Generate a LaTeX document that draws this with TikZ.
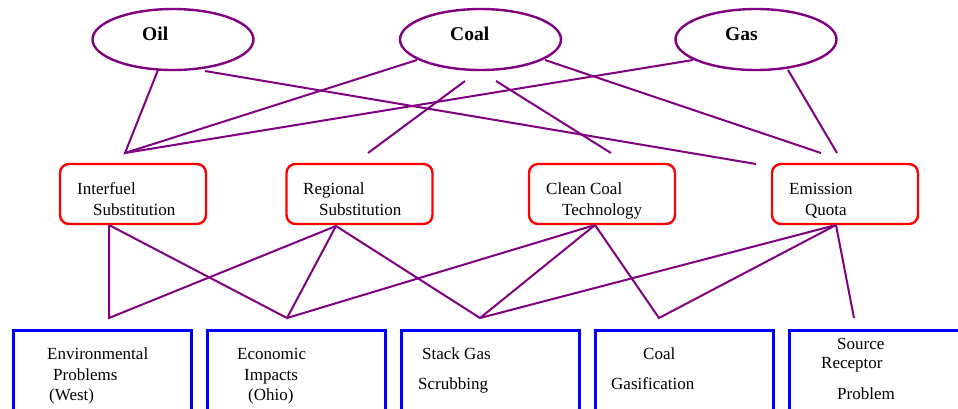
\documentclass[tikz,border=0pt]{standalone}
\usepackage{fontspec}
\setmainfont{Liberation Serif}
\usetikzlibrary{shapes.geometric}
\definecolor{lnpurple}{RGB}{128,0,128}
\begin{document}
\begin{tikzpicture}[x=1pt,y=-1pt,
 fuel/.style={ellipse, draw=lnpurple, line width=2.4pt, minimum width=161pt, minimum height=61pt, inner sep=0pt},
 factor/.style={rectangle, rounded corners=9pt, draw=red, line width=2.4pt, minimum width=146pt, minimum height=60pt, inner sep=0pt},
 issue/.style={rectangle, draw=blue, line width=2.6pt, minimum width=178pt, minimum height=100pt, anchor=north west, inner sep=0pt},
 lbl/.style={anchor=base west, inner sep=0pt, font=\fontsize{17}{20}\selectfont},
 fuellbl/.style={anchor=base west, inner sep=0pt, font=\fontsize{19.5}{22}\selectfont\bfseries},
 link/.style={draw=lnpurple, line width=2pt}]
\useasboundingbox (0,0) rectangle (958,408);
\clip (0,0) rectangle (958,408);
\fill[white] (0,0) rectangle (958,408);
% fuels
\node[fuel] (oil) at (173,39.5) {};
\node[fuel] (coal) at (480.5,39.5) {};
\node[fuel] (gas) at (756,39.5) {};
\node[fuellbl] (oilt) at (142,40) {Oil};
\node[fuellbl] (coalt) at (450,40) {Coal};
\node[fuellbl] (gast) at (725,40) {Gas};
% factors
\node[factor] (inter) at (133,194) {};
\node[factor] (regio) at (359.5,194) {};
\node[factor] (clean) at (602,194) {};
\node[factor] (emis) at (845,194) {};
\node[lbl] (intert1) at (77,194) {Interfuel};
\node[lbl] (intert2) at (93,215) {Substitution};
\node[lbl] (regiot1) at (303,194) {Regional};
\node[lbl] (regiot2) at (319,215) {Substitution};
\node[lbl] (cleant1) at (546,194) {Clean Coal};
\node[lbl] (cleant2) at (562,215) {Technology};
\node[lbl] (emist1) at (789,194) {Emission};
\node[lbl] (emist2) at (805,215) {Quota};
% issues
\node[issue] (env) at (12,329) {};
\node[issue] (eco) at (206,329) {};
\node[issue] (stack) at (400,329) {};
\node[issue] (gasif) at (594,329) {};
\node[issue] (src) at (788,329) {};
\node[lbl] (envt1) at (47,359) {Environmental};
\node[lbl] (envt2) at (53,380) {Problems};
\node[lbl] (envt3) at (49,400) {(West)};
\node[lbl] (ecot1) at (237,359) {Economic};
\node[lbl] (ecot2) at (244,380) {Impacts};
\node[lbl] (ecot3) at (248,400) {(Ohio)};
\node[lbl] (stackt1) at (422,359) {Stack Gas};
\node[lbl] (stackt2) at (418,389) {Scrubbing};
\node[lbl] (gasift1) at (643,359) {Coal};
\node[lbl] (gasift2) at (611,389) {Gasification};
\node[lbl] (srct1) at (837,349) {Source};
\node[lbl] (srct2) at (821,368) {Receptor};
\node[lbl] (srct3) at (837,399) {Problem};
% connector end points
\coordinate (oilA) at (158,70);
\coordinate (oilB) at (205,71);
\coordinate (coalA) at (417,60);
\coordinate (coalB) at (465,81);
\coordinate (coalC) at (496,81);
\coordinate (coalD) at (545,60);
\coordinate (gasA) at (693,60);
\coordinate (gasB) at (788,70);
\coordinate (intT) at (125,153);
\coordinate (regT) at (368,153);
\coordinate (cleT) at (611,153);
\coordinate (emiT1) at (756,164);
\coordinate (emiT2) at (821,153);
\coordinate (emiT3) at (837,153);
\coordinate (intB) at (109,225);
\coordinate (regB) at (336,226);
\coordinate (cleB) at (595,225);
\coordinate (emiB) at (836,225);
\coordinate (envP) at (109,318);
\coordinate (ecoP) at (287,318);
\coordinate (staP) at (480,318);
\coordinate (gasP) at (659,318);
\coordinate (srcP) at (854,318);
% upper connectors
\draw[link] (oilA) -- (intT) -- (coalA);
\draw[link] (intT) -- (gasA);
\draw[link] (oilB) -- (emiT1);
\draw[link] (coalB) -- (regT);
\draw[link] (coalC) -- (cleT);
\draw[link] (coalD) -- (emiT2);
\draw[link] (gasB) -- (emiT3);
% lower connectors
\draw[link] (intB) -- (envP) -- (regB);
\draw[link] (intB) -- (ecoP) -- (regB);
\draw[link] (ecoP) -- (cleB);
\draw[link] (regB) -- (staP) -- (cleB);
\draw[link] (staP) -- (emiB);
\draw[link] (cleB) -- (gasP) -- (emiB);
\draw[link] (emiB) -- (srcP);
\end{tikzpicture}
\end{document}
